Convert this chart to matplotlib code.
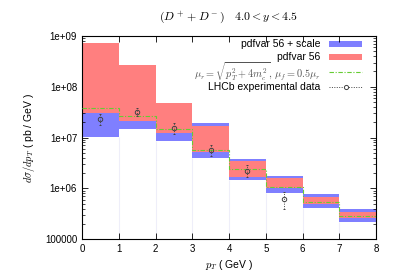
import matplotlib.pyplot as plt
import numpy as np
from matplotlib.patches import Rectangle
from matplotlib.lines import Line2D
from matplotlib.ticker import LogLocator, NullFormatter

plt.rcParams['font.family'] = ['Liberation Sans', 'DejaVu Sans']
plt.rcParams['mathtext.fontset'] = 'cm'

# bin edges (pT, GeV)
edges = np.arange(0, 9)

# pdfvar 56 + scale envelope (blue)
scale_hi = [7.3e8, 2.72e8, 4.8e7, 1.95e7, 3.77e6, 1.74e6, 7.8e5, 3.85e5]
scale_lo = [1.04e7, 1.47e7, 8.5e6, 3.9e6, 1.46e6, 7.95e5, 4.03e5, 2.13e5]

# pdfvar 56 band (red)
pdf_hi = [7.2e8, 2.68e8, 4.72e7, 1.71e7, 3.49e6, 1.61e6, 6.8e5, 3.4e5]
pdf_lo = [3.08e7, 2.14e7, 1.24e7, 5.1e6, 1.69e6, 1.03e6, 4.9e5, 2.6e5]

# central scale choice (green)
central = [3.76e7, 2.65e7, 1.45e7, 5.6e6, 2.39e6, 1.07e6, 5.3e5, 2.84e5]

# LHCb data
data_x = [0.5, 1.5, 2.5, 3.5, 4.5, 5.5]
data_y = [2.35e7, 3.24e7, 1.56e7, 5.67e6, 2.22e6, 6.3e5]
data_up = [2.95e7, 3.9e7, 1.95e7, 7.1e6, 2.87e6, 8.5e5]
data_dn = [1.74e7, 2.6e7, 1.2e7, 4.4e6, 1.64e6, 4.0e5]

blue = '#7f7fff'
red = '#ff7f7f'
green = '#66cc33'
dark = '#444444'

fig = plt.figure(figsize=(3.98, 2.79), dpi=100)
ax = fig.add_axes([0.206, 0.143, 0.739, 0.728])

lo = np.array(scale_lo)
# faint bin-edge lines
for i in range(1, 8):
    ax.vlines(edges[i], 1e5, min(lo[i - 1], lo[i]), color='#eeeef9', lw=0.8, zorder=0)

ax.bar(edges[:-1], np.array(scale_hi) - lo, bottom=lo, width=1, align='edge',
       color=blue, edgecolor='none', zorder=1)
ax.bar(edges[:-1], np.array(pdf_hi) - np.array(pdf_lo), bottom=pdf_lo, width=1,
       align='edge', color=red, edgecolor='none', zorder=2)
ax.stairs(central, edges, baseline=None, color=green, lw=0.8,
          ls=(0, (4, 1.5, 1, 1.5)), zorder=3)

yerr = [np.array(data_y) - np.array(data_dn), np.array(data_up) - np.array(data_y)]
eb = ax.errorbar(data_x, data_y, yerr=yerr, fmt='o', mfc='none', mec=dark, ms=3.2,
                 mew=0.7, ecolor=dark, elinewidth=0.7, capsize=1.0, zorder=4)
for line in eb[2]:
    line.set_linestyle((0, (1, 1.5)))

ax.set_yscale('log')
ax.set_xlim(0, 8)
ax.set_ylim(1e5, 1e9)
ax.set_yticks([1e5, 1e6, 1e7, 1e8, 1e9])
ax.set_yticklabels(['100000', '1e+06', '1e+07', '1e+08', '1e+09'])
ax.yaxis.set_minor_locator(LogLocator(base=10, subs=np.arange(2, 10)))
ax.yaxis.set_minor_formatter(NullFormatter())
ax.set_xticks(range(9))
ax.tick_params(which='both', direction='in', top=True, right=True, labelsize=7)
ax.tick_params(which='major', length=4, width=0.6)
ax.tick_params(which='minor', length=2, width=0.5)
for s in ax.spines.values():
    s.set_linewidth(0.8)

ax.set_xlabel(r'$p_T$ ( GeV )', fontsize=7.5, labelpad=3)
ax.set_ylabel(r'$d\sigma/dp_T$ ( pb / GeV )', fontsize=7.5, labelpad=6)
fig.text(0.575, 0.937, r'$(D^+ + D^-)\quad 4.0 < y < 4.5$', ha='center',
         va='center', fontsize=8.5)

# gnuplot-style key: text right-aligned, sample on the right
labels = ['pdfvar 56 + scale', 'pdfvar 56',
          r'$\mu_r = \sqrt{p_T^2 + 4m_c^2},\, \mu_f = 0.5\mu_r$',
          'LHCb experimental data']
rows = [0.960, 0.897, 0.824, 0.750]
tx, s0, s1 = 0.810, 0.840, 0.952
for k, (lab, yy) in enumerate(zip(labels, rows)):
    ax.text(tx, yy, lab, transform=ax.transAxes, ha='right', va='center',
            fontsize=7.4 if k == 2 else 7.5, color='#555555' if k == 2 else 'black')
ax.add_patch(Rectangle((s0, rows[0] - 0.013), s1 - s0, 0.026, transform=ax.transAxes,
                       color=blue, lw=0))
ax.add_patch(Rectangle((s0, rows[1] - 0.013), s1 - s0, 0.026, transform=ax.transAxes,
                       color=red, lw=0))
ax.add_line(Line2D([s0, s1], [rows[2]] * 2, transform=ax.transAxes, color=green,
                   lw=0.8, ls=(0, (4, 1.5, 1, 1.5))))
ax.add_line(Line2D([s0, s1], [rows[3]] * 2, transform=ax.transAxes, color=dark,
                   lw=0.7, ls=(0, (1, 1.5))))
ax.add_line(Line2D([(s0 + s1) / 2], [rows[3]], transform=ax.transAxes, marker='o',
                   mfc='white', mec=dark, ms=3, mew=0.7))

fig.savefig('out.png', dpi=100)
